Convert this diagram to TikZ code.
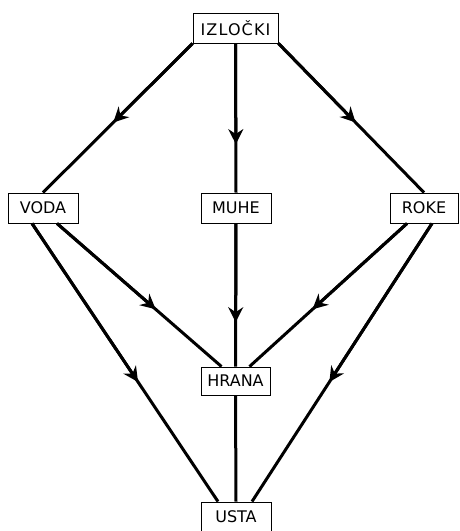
\documentclass[tikz,border=0pt]{standalone}
\usepackage{fontspec}
\setmainfont{DejaVu Sans}
\usetikzlibrary{arrows.meta,calc}
\tikzset{
  box/.style={draw=black, line width=0.9pt, fill=white, inner sep=0pt,
    minimum width=70pt, minimum height=30pt, font=\fontsize{16}{16}\selectfont},
  link/.style={line width=3pt},
  head/.style={link, -{Stealth[length=15pt,width=15pt,inset=5pt]}}
}
% connector from #1 to #2 with its arrowhead at fraction #3 of the way
\newcommand\flowline[3]{%
  \draw[link] (#1) -- (#2);
  \draw[head] (#1) -- ($(#1)!#3!(#2)$);}
\begin{document}
\begin{tikzpicture}[x=1pt,y=-1pt]
\useasboundingbox (0,0) rectangle (459,531);
% boxes
\node[box, minimum width=85pt] (iz) at (235.5,28) {\addfontfeature{LetterSpace=7}IZLOČKI};
\node[box] (voda) at (43,208) {VODA};
\node[box] (muhe) at (236,208) {MUHE};
\node[box, minimum width=68pt] (roke) at (424,208) {ROKE};
\node[box, minimum width=69pt, minimum height=28pt] (hrana) at (235.5,381) {HRANA};
\node[box, minimum height=29pt] (usta) at (236,516.5) {USTA};
% connector end points on the boxes
\coordinate (vodaR) at ([xshift=14pt]voda.south);
\coordinate (vodaL) at ([xshift=-11pt]voda.south);
\coordinate (rokeL) at ([xshift=-17pt]roke.south);
\coordinate (rokeR) at ([xshift=8pt]roke.south);
\coordinate (hranaL) at ([xshift=-14pt]hrana.north);
\coordinate (hranaR) at ([xshift=14pt]hrana.north);
\coordinate (ustaL) at ([xshift=-18pt]usta.north);
\coordinate (ustaR) at ([xshift=16pt]usta.north);
% connectors
\flowline{iz.south west}{voda.north}{0.53}
\flowline{iz.south}{muhe.north}{0.675}
\flowline{iz.south east}{roke.north}{0.53}
\flowline{vodaR}{hranaL}{0.60}
\flowline{muhe.south}{hrana.north}{0.69}
\flowline{rokeL}{hranaR}{0.60}
\flowline{vodaL}{ustaL}{0.57}
\flowline{rokeR}{ustaR}{0.57}
\draw[link] (hrana.south) -- (usta.north);
\end{tikzpicture}
\end{document}
